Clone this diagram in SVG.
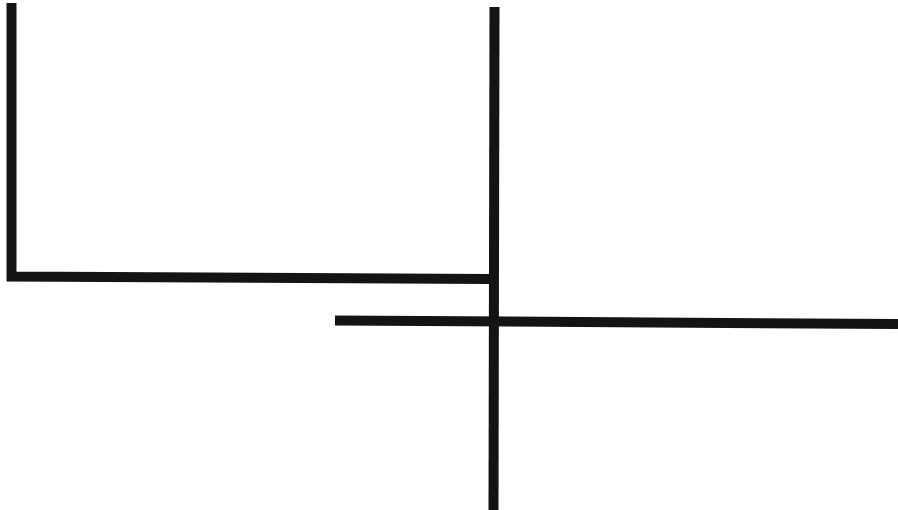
<svg xmlns="http://www.w3.org/2000/svg" width="898" height="510" viewBox="0 0 898 510">
<style>
.ln{fill:none;stroke:#141414;stroke-width:10;stroke-linecap:butt;stroke-linejoin:miter}
</style>
<rect width="898" height="510" fill="#ffffff"/>
<g id="connectors">
<path class="ln" d="M11.5,3 V276.5 L490,279"/>
<path class="ln" d="M494.5,7 L493.5,510"/>
<path class="ln" d="M335,320.5 L898,324"/>
</g>
</svg>
